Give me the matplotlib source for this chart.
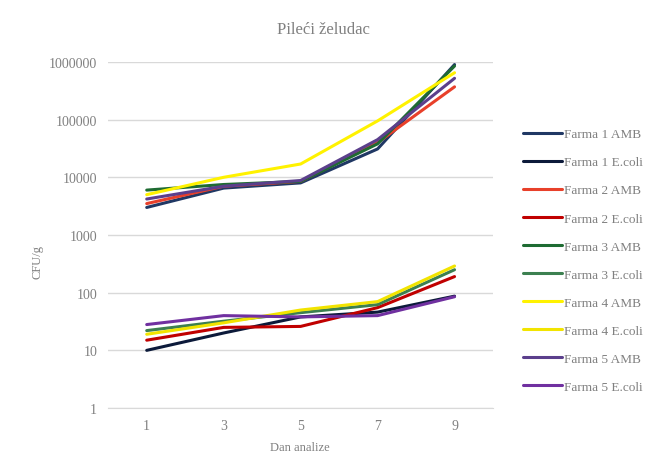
import numpy as np
import matplotlib.pyplot as plt
from matplotlib.ticker import FixedLocator, FixedFormatter

plt.rcParams['font.family'] = ['Liberation Serif', 'DejaVu Serif']

# Dan analize (x categories)
days = ['1', '3', '5', '7', '9']

# CFU/g values
f1_amb = [3000, 6500, 8000, 31000, 900000]
f1_ecoli = [10, 20, 38, 46, 87]
f2_amb = [3500, 7000, 8500, 40000, 370000]
f2_ecoli = [15, 25, 26, 55, 190]
f3_amb = [6000, 7500, 8500, 38000, 850000]
f3_ecoli = [22, 32, 45, 62, 250]
f4_amb = [5000, 10000, 17000, 95000, 650000]
f4_ecoli = [19, 30, 50, 70, 290]
f5_amb = [4200, 7000, 8800, 45000, 520000]
f5_ecoli = [28, 40, 38, 40, 85]

labels = ['Farma 1 AMB', 'Farma 1 E.coli', 'Farma 2 AMB', 'Farma 2 E.coli',
          'Farma 3 AMB', 'Farma 3 E.coli', 'Farma 4 AMB', 'Farma 4 E.coli',
          'Farma 5 AMB', 'Farma 5 E.coli']
series = [f1_amb, f1_ecoli, f2_amb, f2_ecoli, f3_amb, f3_ecoli,
          f4_amb, f4_ecoli, f5_amb, f5_ecoli]
colors = ['#203864', '#0C1A3A', '#E8402A', '#C00000', '#1E6B32', '#3C8050',
          '#FFF200', '#F2E400', '#5B3F8C', '#7030A0']

text_col = '#808080'
grid_col = '#D9D9D9'

fig = plt.figure(figsize=(6.6, 4.56), dpi=100)
ax = fig.add_axes([0.164, 0.103, 0.583, 0.759])

x = np.arange(len(days))
for vals, lab, c in zip(series, labels, colors):
    ax.plot(x, vals, color=c, lw=2.2, label=lab, solid_capstyle='round')

ax.set_yscale('log')
ax.set_ylim(1, 1e6)
ax.set_xlim(-0.5, len(days) - 0.5)
ticks = [1, 10, 100, 1000, 10000, 100000, 1000000]
ax.yaxis.set_major_locator(FixedLocator(ticks))
ax.yaxis.set_major_formatter(FixedFormatter([str(t) for t in ticks]))
ax.yaxis.set_minor_locator(FixedLocator([]))
ax.set_xticks(x)
ax.set_xticklabels(days)
ax.grid(axis='y', color=grid_col, lw=1)
ax.set_axisbelow(True)
for s in ['top', 'right', 'left']:
    ax.spines[s].set_visible(False)
ax.spines['bottom'].set_color(grid_col)
ax.tick_params(length=0, colors=text_col, labelsize=10, pad=8)

fig.text(0.49, 0.935, 'Pileći želudac', color=text_col, fontsize=12,
         ha='center', va='center')
fig.text(0.455, 0.01, 'Dan analize', color=text_col, fontsize=9, ha='center')
fig.text(0.057, 0.425, 'CFU/g', color=text_col, fontsize=9, rotation=90,
         ha='center', va='center')

fig.legend(loc='center left', bbox_to_anchor=(0.775, 0.4265), frameon=False,
           fontsize=9.5, labelcolor=text_col, handlelength=2.9,
           handletextpad=0.15, labelspacing=1.2)

fig.savefig('out.png', dpi=100)
